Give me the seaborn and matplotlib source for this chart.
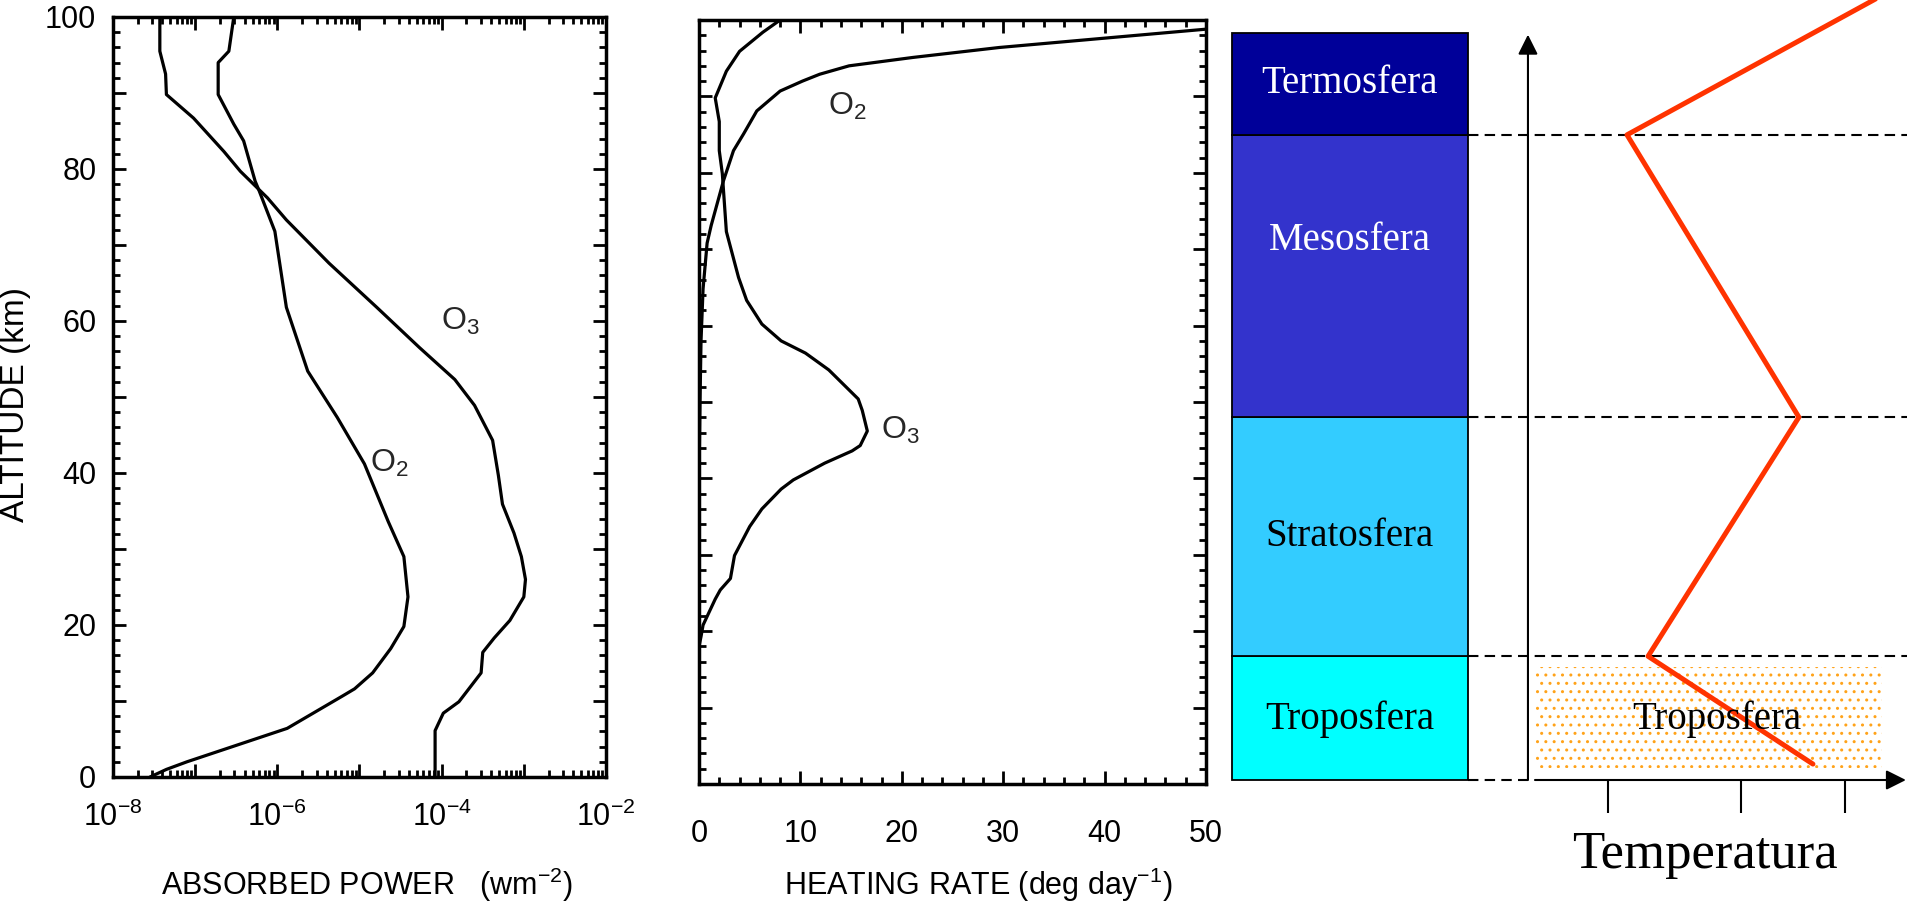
import numpy as np
import matplotlib
matplotlib.use("Agg")
import matplotlib.pyplot as plt
from matplotlib.patches import Rectangle
from matplotlib.ticker import FuncFormatter, LogLocator, MultipleLocator, NullFormatter
import seaborn as sns

# absorbed power, log10 (W m-2), against altitude (km)
o2_power_alt = [100, 95.5, 94, 89.8, 85.9, 83.7, 78.4, 77.1, 71.8, 61.8, 53.4, 47.3, 41.2,
                33.6, 29.0, 23.7, 19.8, 16.9, 13.7, 11.6, 10.7, 6.4, 4.2, 2.0, 1.0, 0]
o2_power_log = [-6.53, -6.59, -6.72, -6.72, -6.53, -6.41, -6.27, -6.22, -6.03, -5.89, -5.63, -5.27, -4.94,
                -4.65, -4.46, -4.41, -4.46, -4.62, -4.84, -5.06, -5.20, -5.88, -6.49, -7.10, -7.35, -7.55]
o3_power_alt = [100, 95.5, 92.5, 89.8, 86.7, 82.3, 79.7, 76.2, 73.3, 67.6, 61.8, 56.5, 52.3, 48.9, 44.3,
                39.7, 35.9, 32.1, 29.0, 26.0, 23.7, 20.6, 18.3, 16.4, 13.7, 9.9, 8.4, 6.1, 0]
o3_power_log = [-7.43, -7.43, -7.36, -7.35, -7.02, -6.65, -6.45, -6.12, -5.89, -5.37, -4.79, -4.27, -3.84,
                -3.60, -3.38, -3.31, -3.26, -3.12, -3.03, -2.98, -3.00, -3.17, -3.36, -3.50, -3.52, -3.79,
                -3.98, -4.08, -4.08]

# heating rate (deg/day) against altitude (km)
o2_heat_alt = [98.8, 96.4, 95.1, 94.0, 92.9, 92.0, 90.7, 88.1, 85.1, 82.9, 78.9, 73.1, 70.8, 64.8, 58.0, 50.0, 40.0]
o2_heat = [50, 29.6, 21.1, 14.8, 11.9, 10.2, 8.0, 5.7, 4.4, 3.4, 2.4, 1.2, 0.8, 0.4, 0.2, 0.1, 0.0]
o3_heat_alt = [100, 98.4, 95.9, 93.3, 89.8, 86.7, 82.9, 79.9, 72.3, 66.3, 63.3, 60.2, 58.0, 56.4, 54.2, 50.4,
               48.9, 46.2, 44.3, 43.6, 42.0, 39.8, 38.6, 36.0, 33.7, 29.9, 26.9, 25.4, 24.2, 20.8, 19.3, 18.0, 0]
o3_heat = [8.0, 6.3, 4.0, 2.7, 1.6, 2.0, 2.0, 2.3, 2.7, 3.9, 4.7, 6.2, 8.1, 10.5, 12.8, 15.7, 16.1, 16.6,
           15.9, 15.1, 12.4, 9.3, 8.1, 6.2, 5.0, 3.5, 3.1, 2.1, 1.6, 0.4, 0.2, 0.0, 0.0]

# atmospheric layers (km)
layer_names = ["Troposfera", "Stratosfera", "Mesosfera", "Termosfera"]
layer_base = [0, 16.3, 47.8, 85.0]
layer_top = [16.3, 47.8, 85.0, 98.4]
layer_colors = ["#00FFFF", "#33CCFF", "#3333CC", "#000099"]
layer_text_colors = ["black", "black", "white", "white"]
layer_text_alt = [8.0, 32.1, 71.1, 91.7]

# schematic temperature profile
temp_alt = [2.1, 16.3, 47.8, 85.0, 104.0]
temp_k = [288.0, 201.1, 280.6, 190.0, 329.0]
temp_ticks = [180, 250, 305]

sns.set_theme(style="white")
plt.rcParams["font.family"] = ["Liberation Sans", "DejaVu Sans"]
plt.rcParams["mathtext.default"] = "regular"
plt.rcParams["hatch.linewidth"] = 1.0
plt.rcParams["xtick.labelsize"] = 22
plt.rcParams["ytick.labelsize"] = 22

W, H = 1908, 909
fig = plt.figure(figsize=(W / 100, H / 100), dpi=100)
fig.patch.set_facecolor("white")


def px_axes(left, top, right, bottom):
    return fig.add_axes([left / W, 1 - bottom / H, (right - left) / W, (bottom - top) / H])


def style_box(ax):
    for s in ax.spines.values():
        s.set_visible(True)
        s.set_linewidth(2.5)
        s.set_color("black")
    ax.tick_params(which="both", direction="in", top=True, right=True, bottom=True, left=True,
                   color="black", labelcolor="black")
    ax.tick_params(which="major", length=9.5, width=2, labelsize=22)
    ax.tick_params(which="minor", length=5, width=2)


line_kw = dict(sort=False, estimator=None, color="black", lw=2.3)

# ---- absorbed power
ax1 = px_axes(113, 17, 606, 777)
sns.lineplot(x=10 ** np.array(o2_power_log), y=o2_power_alt, ax=ax1, **line_kw)
sns.lineplot(x=10 ** np.array(o3_power_log), y=o3_power_alt, ax=ax1, **line_kw)
ax1.set_xscale("log")
ax1.set_xlim(1e-8, 1e-2)
ax1.set_ylim(0, 100)
style_box(ax1)
ax1.xaxis.set_major_locator(LogLocator(base=10, numticks=12))
ax1.xaxis.set_minor_locator(LogLocator(base=10, subs=np.arange(2, 10), numticks=12))
ax1.xaxis.set_minor_formatter(NullFormatter())
ax1.xaxis.set_major_formatter(FuncFormatter(
    lambda v, p: "10$^{%d}$" % round(np.log10(v)) if round(np.log10(v)) % 2 == 0 else ""))
ax1.yaxis.set_major_locator(MultipleLocator(10))
ax1.yaxis.set_minor_locator(MultipleLocator(2))
ax1.yaxis.set_major_formatter(FuncFormatter(lambda v, p: "%d" % v if round(v) % 20 == 0 else ""))
ax1.tick_params(axis="x", pad=18)
ax1.tick_params(axis="y", pad=12)
ax1.set_xlabel("ABSORBED POWER   (wm$^{-2}$)", fontsize=22, color="black")
ax1.xaxis.set_label_coords(0.515, -0.117)
ax1.set_ylabel("ALTITUDE (km)", fontsize=24, color="black")
ax1.yaxis.set_label_coords(-0.166, 0.49)
ax1.text(10 ** -4.01, 59.9, "O$_3$", fontsize=23, va="center", ha="left")
ax1.text(10 ** -4.87, 41.2, "O$_2$", fontsize=23, va="center", ha="left")

# ---- heating rate
ax2 = px_axes(699, 20, 1206, 784)
sns.lineplot(x=o2_heat, y=o2_heat_alt, ax=ax2, **line_kw)
sns.lineplot(x=o3_heat, y=o3_heat_alt, ax=ax2, **line_kw)
ax2.set_xlim(0, 50)
ax2.set_ylim(0, 100)
style_box(ax2)
ax2.xaxis.set_major_locator(MultipleLocator(10))
ax2.xaxis.set_minor_locator(MultipleLocator(2))
ax2.yaxis.set_major_locator(MultipleLocator(10))
ax2.yaxis.set_minor_locator(MultipleLocator(2))
ax2.yaxis.set_major_formatter(NullFormatter())
ax2.tick_params(axis="x", pad=25)
ax2.set_xlabel("HEATING RATE (deg day$^{-1}$)", fontsize=22, color="black")
ax2.xaxis.set_label_coords(0.55, -0.107)
ax2.set_ylabel("")
ax2.text(12.7, 88.7, "O$_2$", fontsize=23, va="center", ha="left")
ax2.text(17.9, 46.3, "O$_3$", fontsize=23, va="center", ha="left")

# ---- layer column and temperature sketch (same altitude scale, 0 km at y=780 px)
alt_lim = (-129 / 7.59, 780 / 7.59)
serif = ["Liberation Serif", "DejaVu Serif"]

axc = px_axes(1232, 0, 1468, 909)
axc.set_xlim(0, 1)
axc.set_ylim(*alt_lim)
for name, b, t, c, tc, ta in zip(layer_names, layer_base, layer_top, layer_colors,
                                 layer_text_colors, layer_text_alt):
    axc.bar(0.5, t - b, bottom=b, width=1, color=c, edgecolor="black", lw=1.3, clip_on=False)
    axc.text(0.5, ta, name, color=tc, fontsize=28, family=serif, ha="center", va="center")
axc.axis("off")

axt = px_axes(1468, 0, 1908, 909)
axt.set_xlim(106.2, 338.1)
axt.set_ylim(*alt_lim)
axt.add_patch(Rectangle((141.5, 1.6), 183.0, 13.3, hatch="..", fill=False,
                        edgecolor="#FFA31A", lw=0))
for b in layer_top[:-1]:
    axt.axhline(b, color="black", lw=1.5, ls=(0, (5, 3)))
axt.plot([106.2, 137.8], [0, 0], color="black", lw=1.5, ls=(0, (5, 3)))
axt.annotate("", xy=(137.8, 98.2), xytext=(137.8, 0),
             arrowprops=dict(arrowstyle="-|>,head_length=0.6,head_width=0.3",
                             mutation_scale=20, color="black", lw=1.5, shrinkA=0, shrinkB=0))
axt.annotate("", xy=(337.0, 0), xytext=(141.5, 0),
             arrowprops=dict(arrowstyle="-|>,head_length=0.6,head_width=0.3",
                             mutation_scale=20, color="black", lw=1.5, shrinkA=0, shrinkB=0))
axt.vlines(temp_ticks, -4.35, 0, color="black", lw=1.5)
sns.lineplot(x=temp_k, y=temp_alt, sort=False, estimator=None, color="#FF3300", lw=3.6, ax=axt)
axt.text(237.4, 8.0, "Troposfera", fontsize=28, family=serif, color="black", ha="center", va="center")
axt.text(231.1, -9.9, "Temperatura", fontsize=38, family=serif, color="black", ha="center", va="center")
axt.axis("off")

fig.savefig("out.png", dpi=100, facecolor="white")
